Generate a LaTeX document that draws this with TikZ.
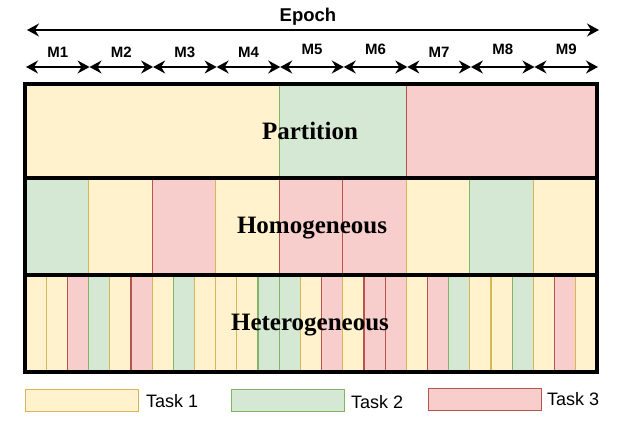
\documentclass[tikz,border=0pt]{standalone}
\usepackage{fontspec}
\setmainfont{Liberation Serif}
\setsansfont{Liberation Sans}
\usetikzlibrary{arrows.meta}
\definecolor{yfill}{HTML}{FFF2CC}\definecolor{ydraw}{HTML}{D6B656}
\definecolor{gfill}{HTML}{D5E8D4}\definecolor{gdraw}{HTML}{82B366}
\definecolor{rfill}{HTML}{F8CECC}\definecolor{rdraw}{HTML}{B85450}
\begin{document}
\begin{tikzpicture}[x=1pt,y=-1pt,
  Y/.style={fill=yfill,draw=ydraw,line width=1.2pt},
  G/.style={fill=gfill,draw=gdraw,line width=1.2pt},
  R/.style={fill=rfill,draw=rdraw,line width=1.2pt},
  frame/.style={draw=black,line width=4pt,line join=miter},
  rowlabel/.style={font=\bfseries\fontsize{25}{30}\selectfont,inner sep=0pt},
  mlabel/.style={font=\sffamily\bfseries\fontsize{15}{18}\selectfont,inner sep=0pt},
  leglabel/.style={font=\sffamily\fontsize{18}{21}\selectfont,inner sep=0pt,anchor=west},
  dblarrow/.style={line width=1.5pt,{Stealth[length=12pt,width=13pt,inset=4pt]}-{Stealth[length=12pt,width=13pt,inset=4pt]}},
  legbox/.style={minimum width=113pt,minimum height=22pt,anchor=north west,inner sep=0pt}
]
\useasboundingbox (0,0) rectangle (621,441);
\def\L{25}\def\W{63.5556}\def\S{21.1852}
% Partition row
\draw[Y] (\L,84) rectangle ({\L+4*\W},178);
\draw[G] ({\L+4*\W},84) rectangle ({\L+6*\W},178);
\draw[R] ({\L+6*\W},84) rectangle (597,178);
% Homogeneous row
\foreach \c [count=\i from 0] in {G,Y,R,Y,R,R,Y,G,Y}
  \draw[\c] ({\L+\i*\W},178) rectangle ({\L+(\i+1)*\W},275);
% Heterogeneous row
\foreach \c [count=\i from 0] in {Y,Y,R,G,Y,R,Y,G,Y,Y,Y,G,G,Y,R,Y,R,R,Y,R,G,Y,Y,G,Y,R,Y}
  \draw[\c] ({\L+\i*\S},275) rectangle ({\L+(\i+1)*\S},372);
% frames
\draw[frame] (\L,84) rectangle (597,372);
\draw[frame] (\L,178) -- (597,178);
\draw[frame] (\L,275) -- (597,275);
% row labels
\node[rowlabel] (part) at (310,131) {Partition};
\node[rowlabel] (homo) at (312,228) {Homogeneous};
\node[rowlabel] (hetero) at (310,325) {Heterogeneous};
% Epoch arrow
\coordinate (e0) at (27,30);
\coordinate (e1) at (599,30);
\draw[dblarrow] (e0) -- (e1);
\node[font=\sffamily\bfseries\fontsize{18.5}{22}\selectfont,inner sep=0pt] (epoch) at (308,17) {Epoch};
% M arrows
\foreach \k in {0,...,9}
  \coordinate (m\k) at ({26+\k*63.5556},67);
\foreach \k [evaluate=\k as \n using int(\k+1)] in {0,...,8}
  \draw[dblarrow] (m\k) -- (m\n);
\foreach \k/\yy in {1/52,2/52,3/52,4/52,5/49,6/49,7/52,8/49,9/49}
  \node[mlabel] (ml\k) at ({26+(\k-0.5)*63.5556},\yy) {M\k};
% legend
\node[Y,legbox] (l1) at (25,389) {};
\node[leglabel] (t1) at (146,401) {Task 1};
\node[G,legbox] (l2) at (231,389) {};
\node[leglabel] (t2) at (351,402) {Task 2};
\node[R,legbox] (l3) at (428,388) {};
\node[leglabel] (t3) at (547,399) {Task 3};
\end{tikzpicture}
\end{document}
